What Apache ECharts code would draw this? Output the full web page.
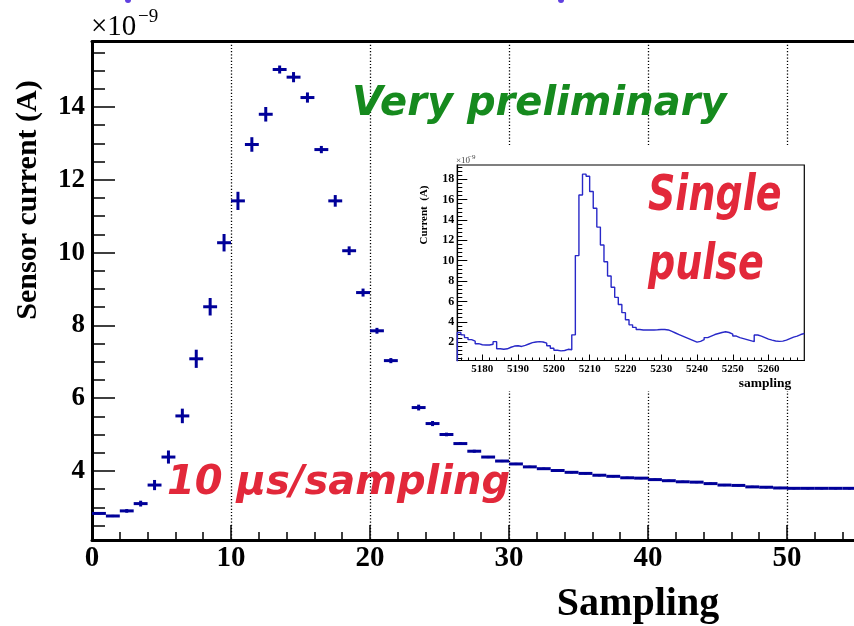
<!DOCTYPE html>
<html>
<head>
<meta charset="utf-8">
<script src="https://cdn.jsdelivr.net/npm/echarts@6/dist/echarts.min.js"></script>
<style>
  html, body { margin: 0; padding: 0; background: #fff; overflow: hidden; }
  /* the frame continues past the right edge of the window */
  #chart { width: 1000px; height: 626px; }
</style>
</head>
<body>
<div id="chart"></div>
<script>
// Averaged sensor current per sampling bin, in units of 1e-9 A (bin i spans [i, i+1]).
const currentValues = [
  2.83, 2.76, 2.90, 3.10, 3.61, 4.38, 5.51, 7.08, 8.51, 10.27,
  11.42, 12.97, 13.80, 15.03, 14.82, 14.26, 12.83, 11.42, 10.05, 8.90,
  7.85, 7.03, null, 5.74, 5.30, 5.00, 4.75, 4.54, 4.38, 4.27,
  4.19, 4.11, 4.06, 4.01, 3.96, 3.93, 3.88, 3.85, 3.81, 3.80,
  3.76, 3.73, 3.70, 3.69, 3.65, 3.61, 3.60, 3.56, 3.55, 3.53,
  3.52, 3.52, 3.52, 3.52, 3.52, 3.52
];
// Vertical error of each bin, same units.
const currentErrors = [
  0.03, 0.03, 0.05, 0.08, 0.14, 0.18, 0.20, 0.25, 0.24, 0.24,
  0.25, 0.20, 0.20, 0.11, 0.14, 0.14, 0.10, 0.16, 0.12, 0.11,
  0.08, 0.07, null, 0.08, 0.07, 0.05, 0.04, 0.04, 0.03, 0.03,
  0.03, 0.03, 0.03, 0.03, 0.03, 0.03, 0.03, 0.03, 0.03, 0.03,
  0.03, 0.03, 0.03, 0.03, 0.03, 0.03, 0.03, 0.03, 0.03, 0.03,
  0.03, 0.03, 0.03, 0.03, 0.03, 0.03
];

// Single pulse: first sampling index and current per sample (1e-9 A).
const pulseStart = 5173;
const pulseValues = [
  2.95, 2.72, 2.45, 2.25, 2.10, 1.85, 1.75, 1.72, 1.72, 1.80,
  2.05, 1.35, 1.30, 1.35, 1.50, 1.62, 1.65, 1.58, 1.68, 1.82,
  1.95, 2.02, 2.05, 2.02, 1.90, 1.65, 1.40, 1.20, 1.15, 1.18,
  1.30, 1.25, 2.72, 10.50, 16.45, 18.50, 18.30, 16.80, 15.15, 13.30,
  11.55, 9.90, 8.50, 7.40, 6.40, 5.70, 4.90, 4.20, 3.70, 3.45,
  3.25, 3.20, 3.20, 3.20, 3.20, 3.22, 3.25, 3.25, 3.20, 3.05,
  2.90, 2.75, 2.60, 2.45, 2.30, 2.15, 2.00, 2.08, 2.25, 2.45,
  2.60, 2.75, 2.85, 2.95, 3.02, 2.95, 2.80, 2.60, 2.45, 2.35,
  2.25, 2.15, 2.05, 2.70, 2.60, 2.45, 2.30, 2.20, 2.12, 2.08,
  2.10, 2.20, 2.35, 2.50, 2.60, 2.75, 2.85
];

// Axis tick labels
const mainYLabels = [4, 6, 8, 10, 12, 14];
const insetXLabels = [5180, 5190, 5200, 5210, 5220, 5230, 5240, 5250, 5260];
const insetYLabels = [2, 4, 6, 8, 10, 12, 14, 16, 18];

// Minor tick positions between the labelled ones
function minorSteps(from, to, step, major) {
  const out = [];
  for (let v = from; v <= to + 1e-9; v += step) {
    const r = Math.round(v * 100) / 100;
    if (Math.abs(r / major - Math.round(r / major)) > 1e-6) out.push(r);
  }
  return out;
}
const mainYMinor = minorSteps(2.5, 15.5, 0.5, 2);
const insetXMinor = minorSteps(5174, 5270, 2, 10);
const insetYMinor = minorSteps(0.4, 19.2, 0.4, 2);

const serif = '"Liberation Serif", "DejaVu Serif", serif';
const comic = '"DejaVu Sans", sans-serif';
const navy = '#000099';
const red = '#e2283a';

const crossData = [];
currentValues.forEach((v, i) => {
  if (v != null) crossData.push([i + 0.5, v, currentErrors[i]]);
});

const pulsePath = [[pulseStart, 0]];
pulseValues.forEach((v, i) => {
  pulsePath.push([pulseStart + i, v]);
  pulsePath.push([pulseStart + i + 1, v]);
});

function renderCross(params, api) {
  const x = api.value(0), y = api.value(1), e = api.value(2);
  const l = api.coord([x - 0.5, y]);
  const r = api.coord([x + 0.5, y]);
  const t = api.coord([x, y + e]);
  const b = api.coord([x, y - e]);
  const style = { stroke: navy, lineWidth: 3 };
  return {
    type: 'group',
    children: [
      { type: 'line', shape: { x1: l[0], y1: l[1], x2: r[0], y2: r[1] }, style: style },
      { type: 'line', shape: { x1: t[0], y1: t[1], x2: b[0], y2: b[1] }, style: style }
    ]
  };
}

const chart = echarts.init(document.getElementById('chart'), null, { renderer: 'canvas' });

const tickStyle = { color: '#000', width: 1.5 };
const plain = v => String(v);
const option = {
  animation: false,
  backgroundColor: '#fff',
  grid: [
    { left: 92, top: 41.5, width: 834, height: 498.5, outerBoundsMode: 'none', containLabel: false },
    { left: 457.3, top: 165, width: 347, height: 195.5, show: true, outerBoundsMode: 'none', containLabel: false,
      backgroundColor: '#fff', borderColor: '#000', borderWidth: 1.2, z: 55 }
  ],
  xAxis: [
    { gridIndex: 0, type: 'value', min: 0, max: 60, interval: 10, position: 'bottom',
      axisLine: { onZero: false, lineStyle: { color: '#000', width: 3 } },
      axisTick: { inside: true, length: 15, lineStyle: tickStyle },
      minorTick: { show: true, splitNumber: 5, length: 8, lineStyle: tickStyle },
      axisLabel: { fontFamily: serif, fontWeight: 'bold', fontSize: 29, color: '#000', margin: 4, formatter: plain },
      splitLine: { show: true, lineStyle: { type: [1.2, 2], color: '#000', width: 1.3 } } },
    { gridIndex: 0, type: 'value', min: 0, max: 60, position: 'top',
      axisLine: { onZero: false, lineStyle: { color: '#000', width: 3 } },
      axisTick: { show: false }, axisLabel: { show: false }, splitLine: { show: false } },
    { gridIndex: 1, type: 'value', min: pulseStart, max: 5270, position: 'bottom', z: 60,
      axisLine: { onZero: false, lineStyle: { color: '#000', width: 1.2 } },
      axisTick: { inside: true, length: 6, customValues: insetXLabels, lineStyle: { color: '#000', width: 1 } },
      axisLabel: { customValues: insetXLabels, fontFamily: serif, fontWeight: 'bold', fontSize: 11, color: '#000', margin: 3, formatter: plain },
      splitLine: { show: false } },
    { gridIndex: 1, type: 'value', min: pulseStart, max: 5270, position: 'bottom', z: 60,
      axisLine: { show: false },
      axisTick: { inside: true, length: 3, customValues: insetXMinor, lineStyle: { color: '#000', width: 1 } },
      axisLabel: { show: false }, splitLine: { show: false } }
  ],
  yAxis: [
    { gridIndex: 0, type: 'value', min: 2.1, max: 15.8, position: 'left',
      axisLine: { onZero: false, lineStyle: { color: '#000', width: 3 } },
      axisTick: { inside: true, length: 23, customValues: mainYLabels, lineStyle: tickStyle },
      axisLabel: { customValues: mainYLabels, fontFamily: serif, fontWeight: 'bold', fontSize: 27, color: '#000', margin: 7, formatter: plain },
      splitLine: { show: false } },
    { gridIndex: 0, type: 'value', min: 2.1, max: 15.8, position: 'left',
      axisLine: { show: false },
      axisTick: { inside: true, length: 13, customValues: mainYMinor, lineStyle: tickStyle },
      axisLabel: { show: false }, splitLine: { show: false } },
    { gridIndex: 1, type: 'value', min: 0.2, max: 19.4, position: 'left', z: 60,
      axisLine: { onZero: false, lineStyle: { color: '#000', width: 1.2 } },
      axisTick: { inside: true, length: 10, customValues: insetYLabels, lineStyle: { color: '#000', width: 1 } },
      axisLabel: { customValues: insetYLabels, fontFamily: serif, fontWeight: 'bold', fontSize: 12, color: '#000', margin: 3, formatter: plain },
      splitLine: { show: false } },
    { gridIndex: 1, type: 'value', min: 0.2, max: 19.4, position: 'left', z: 60,
      axisLine: { show: false },
      axisTick: { inside: true, length: 5, customValues: insetYMinor, lineStyle: { color: '#000', width: 1 } },
      axisLabel: { show: false }, splitLine: { show: false } }
  ],
  series: [
    { type: 'custom', xAxisIndex: 0, yAxisIndex: 0, data: crossData,
      encode: { x: 0, y: 1 }, renderItem: renderCross, z: 3 },
    { type: 'line', xAxisIndex: 2, yAxisIndex: 2, data: pulsePath, showSymbol: false,
      lineStyle: { color: '#2828c8', width: 1.4 }, z: 61, clip: true }
  ],
  graphic: [
    // white panel behind the inset pad
    { type: 'rect', z: 50, shape: { x: 408, y: 147, width: 404, height: 244 }, style: { fill: '#fff' } },
    // cut-off marks at the top edge
    { type: 'circle', z: 50, shape: { cx: 128, cy: 0, r: 3 }, style: { fill: '#6040e0' } },
    { type: 'circle', z: 50, shape: { cx: 561, cy: 0, r: 3 }, style: { fill: '#6040e0' } },
    // main axis titles and exponent
    { type: 'text', z: 80, x: 28.5, y: 200, rotation: Math.PI / 2,
      style: { text: 'Sensor current (A)', font: 'bold 30px ' + serif, fill: '#000', textAlign: 'center', textVerticalAlign: 'middle' } },
    { type: 'text', z: 80, x: 638, y: 605,
      style: { text: 'Sampling', font: 'bold 40px ' + serif, fill: '#000', textAlign: 'center', textVerticalAlign: 'middle' } },
    { type: 'text', z: 80, x: 91, y: 27,
      style: { text: '\u00d710', font: '29px ' + serif, fill: '#000', textAlign: 'left', textVerticalAlign: 'middle' } },
    { type: 'text', z: 80, x: 138, y: 17,
      style: { text: '\u22129', font: '19px ' + serif, fill: '#000', textAlign: 'left', textVerticalAlign: 'middle' } },
    // inset titles and exponent
    { type: 'text', z: 80, x: 424, y: 215, rotation: Math.PI / 2,
      style: { text: 'Current  (A)', font: 'bold 11px ' + serif, fill: '#000', textAlign: 'center', textVerticalAlign: 'middle' } },
    { type: 'text', z: 80, x: 765, y: 384,
      style: { text: 'sampling', font: 'bold 13.5px ' + serif, fill: '#000', textAlign: 'center', textVerticalAlign: 'middle' } },
    { type: 'text', z: 80, x: 456, y: 161,
      style: { text: '\u00d710', font: '9px ' + serif, fill: '#444', textAlign: 'left', textVerticalAlign: 'middle' } },
    { type: 'text', z: 80, x: 468, y: 157,
      style: { text: '\u22129', font: '7px ' + serif, fill: '#444', textAlign: 'left', textVerticalAlign: 'middle' } },
    // annotations
    { type: 'text', z: 90, x: 352, y: 104.5,
      style: { text: 'Very preliminary', font: 'italic bold 40px ' + comic, fill: '#168a1e', textAlign: 'left', textVerticalAlign: 'middle' } },
    { type: 'text', z: 90, x: 648, y: 197.5, scaleX: 0.76,
      style: { text: 'Single', font: 'italic bold 50px ' + comic, fill: red, textAlign: 'left', textVerticalAlign: 'middle' } },
    { type: 'text', z: 90, x: 648, y: 266, scaleX: 0.76,
      style: { text: 'pulse', font: 'italic bold 50px ' + comic, fill: red, textAlign: 'left', textVerticalAlign: 'middle' } },
    { type: 'text', z: 90, x: 167, y: 484,
      style: { text: '10 \u03bcs/sampling', font: 'italic bold 40px ' + comic, fill: red, textAlign: 'left', textVerticalAlign: 'middle' } }
  ]
};
chart.setOption(option);
</script>
</body>
</html>
